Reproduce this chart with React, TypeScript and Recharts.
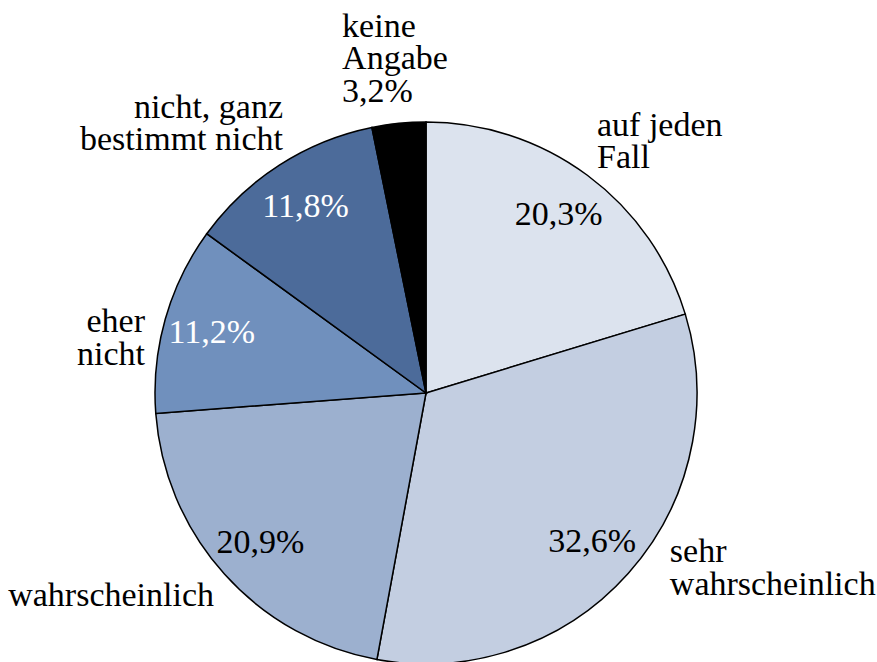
import React from 'react';
import { PieChart, Pie, Cell } from 'recharts';

const categories = [
  'auf jeden Fall',
  'sehr wahrscheinlich',
  'wahrscheinlich',
  'eher nicht',
  'nicht, ganz bestimmt nicht',
  'keine Angabe',
];
const shares = [20.3, 32.6, 20.9, 11.2, 11.8, 3.2];
const labelLines = [
  ['auf jeden', 'Fall'],
  ['sehr', 'wahrscheinlich'],
  ['wahrscheinlich'],
  ['eher', 'nicht'],
  ['nicht, ganz', 'bestimmt nicht'],
  ['keine', 'Angabe'],
];
// slices whose percentage is written outside, under the name
const outsidePercent = [false, false, false, false, false, true];

const COLORS = ['#DCE3EE', '#C3CEE1', '#9CB0CF', '#7090BD', '#4C6B9A', '#000000'];
const INNER_TEXT = ['#000', '#000', '#000', '#fff', '#fff', '#000'];
const OUTER_LAYOUT = [
  { r: 308.7, dAng: -2.9, anchor: 'start' },
  { r: 296.8, dAng: -7.0, anchor: 'start' },
  { r: 300.5, dAng: -3.2, anchor: 'end' },
  { r: 287.5, dAng: -3.6, anchor: 'end' },
  { r: 310, dAng: 5.3, anchor: 'end' },
  { r: 365.8, dAng: -7.5, anchor: 'start' },
];
const FONT = 'Liberation Serif';
const FS = 34;
const LINE_H = 32.5;
const RAD = Math.PI / 180;

const data = categories.map((name, i) => ({ name, value: shares[i] }));
const fmt = (v: number) => v.toFixed(1).replace('.', ',') + '%';

const renderLabel = (props: any) => {
  const { cx, cy, midAngle, outerRadius, index, value } = props;
  const lay = OUTER_LAYOUT[index];
  const a = (midAngle - lay.dAng) * RAD;
  const ox = cx + lay.r * Math.cos(a);
  const oy = cy - lay.r * Math.sin(a);
  const lines = outsidePercent[index] ? [...labelLines[index], fmt(value)] : labelLines[index];
  const ir = outerRadius * 0.822;
  const ix = cx + ir * Math.cos(midAngle * RAD);
  const iy = cy - ir * Math.sin(midAngle * RAD);
  return (
    <g>
      <text x={ox} y={oy} textAnchor={lay.anchor} fontFamily={FONT} fontSize={FS} fill="#000">
        {lines.map((l, k) => (
          <tspan key={k} x={ox} y={oy + k * LINE_H}>
            {l}
          </tspan>
        ))}
      </text>
      {!outsidePercent[index] && (
        <text x={ix} y={iy + 11} textAnchor="middle" fontFamily={FONT} fontSize={FS} fill={INNER_TEXT[index]}>
          {fmt(value)}
        </text>
      )}
    </g>
  );
};

export default function App() {
  return (
    <div style={{ position: 'absolute', left: 0, top: 0, width: 877, height: 662, background: '#fff' }}>
      <PieChart width={877} height={662} margin={{ top: 0, right: 0, bottom: 0, left: 0 }}>
        <Pie
          data={data}
          dataKey="value"
          nameKey="name"
          cx={426}
          cy={393}
          outerRadius={271}
          startAngle={90}
          endAngle={-270}
          stroke="#000"
          strokeWidth={1.5}
          label={renderLabel}
          labelLine={false}
          isAnimationActive={false}
        >
          {data.map((d, i) => (
            <Cell key={d.name} fill={COLORS[i]} />
          ))}
        </Pie>
      </PieChart>
    </div>
  );
}
